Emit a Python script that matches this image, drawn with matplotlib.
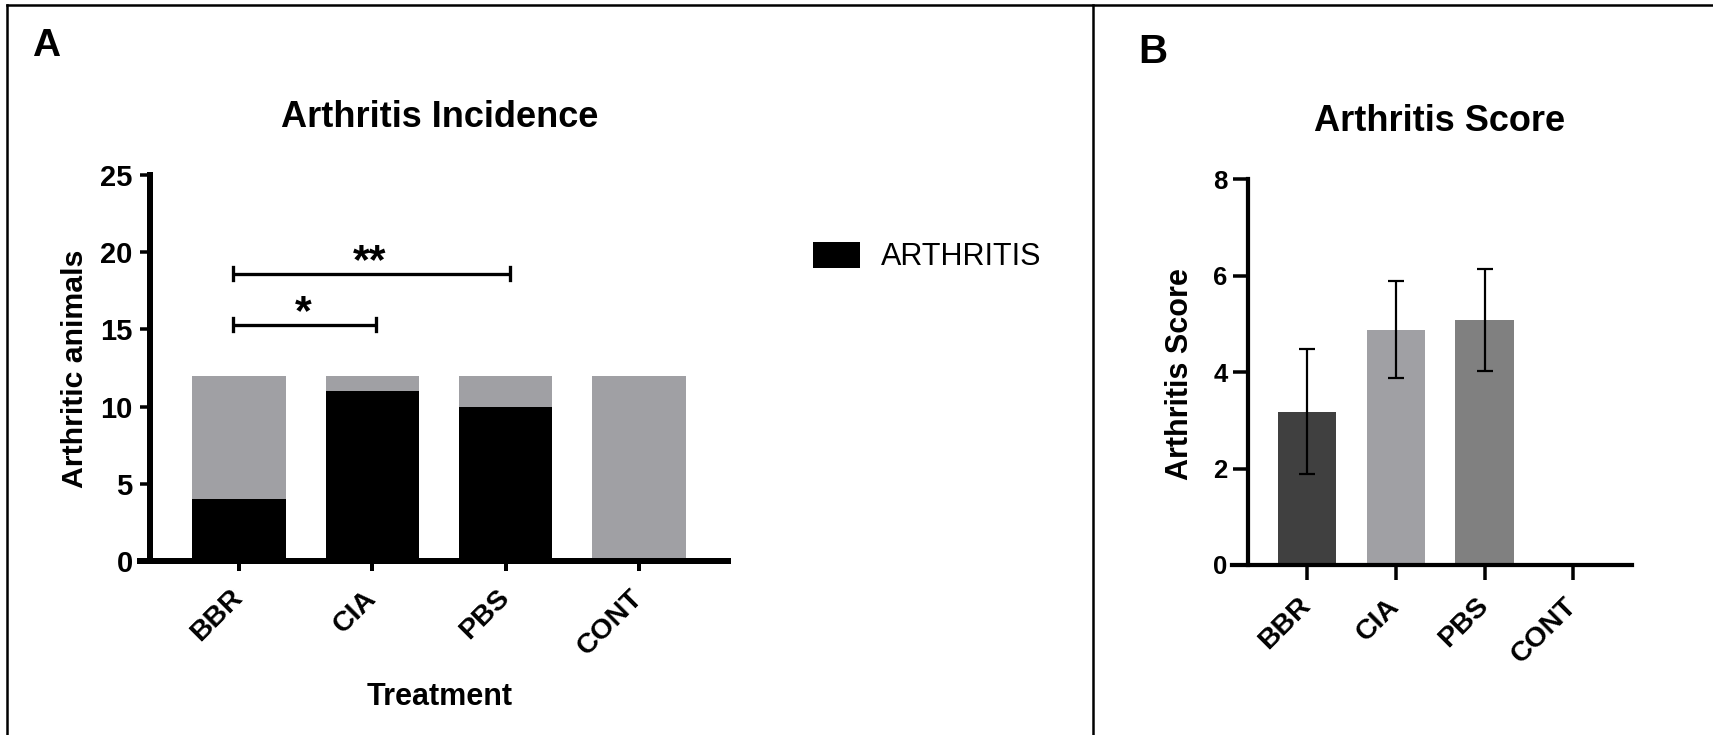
import matplotlib
matplotlib.use("Agg")
import matplotlib.pyplot as plt
from matplotlib.lines import Line2D
import numpy as np

# ---------------- data ----------------
groups = ["BBR", "CIA", "PBS", "CONT"]
arthritic = [4, 11, 10, 0]          # black part (ARTHRITIS)
non_arthritic = [8, 1, 2, 12]       # grey part on top (total 12 animals)
incidence_ticks = [0, 5, 10, 15, 20, 25]

sig_pairs = [(0, 1), (0, 2)]
sig_labels = ["*", "**"]
sig_heights = [15.3, 18.6]

score_mean = [3.18, 4.88, 5.08, 0.0]
score_err = [1.29, 1.01, 1.055, 0.0]
score_ticks = [0, 2, 4, 6, 8]
score_colors = ["#404040", "#a0a0a4", "#808080", "#808080"]

FONT = "Liberation Sans"
W, H = 1713, 735

fig = plt.figure(figsize=(W / 100, H / 100), dpi=100)
fig.patch.set_facecolor("white")

def px2pt(p):
    return p * 72 / 100

def style_ticklabels(ax, ysize, xsize):
    for lab in ax.get_yticklabels():
        lab.set_fontfamily(FONT)
        lab.set_fontweight("bold")
        lab.set_fontsize(ysize)
    for lab in ax.get_xticklabels():
        lab.set_fontfamily(FONT)
        lab.set_fontweight("bold")
        lab.set_fontsize(xsize)
        lab.set_rotation(45)
        lab.set_ha("right")
        lab.set_va("center")
        lab.set_rotation_mode("anchor")

# ---------------- panel A ----------------
axA = fig.add_axes([140 / W, 1 - 561 / H, 588 / W, 386 / H])
x = np.arange(len(groups))
b_black = axA.bar(x, arthritic, width=0.70, color="#000000", zorder=2)
axA.bar(x, non_arthritic, width=0.70, bottom=arthritic, color="#a0a0a4", zorder=2)
axA.set_xlim(-0.743, 3.668)
axA.set_ylim(0, 25)
axA.set_yticks(incidence_ticks)
axA.set_xticks(x)
axA.set_xticklabels(groups)
for s in ["top", "right"]:
    axA.spines[s].set_visible(False)
axA.spines["left"].set_position(("data", -0.67))
for s in ["left", "bottom"]:
    axA.spines[s].set_linewidth(px2pt(6))
    axA.spines[s].set_zorder(5)
axA.tick_params(axis="y", length=px2pt(10), width=px2pt(3.5), pad=px2pt(7))
axA.tick_params(axis="x", length=px2pt(10), width=px2pt(4), pad=px2pt(23))
style_ticklabels(axA, 21, 20.5)

# significance brackets
cap = 0.43
for (i0, i1), lab, hgt in zip(sig_pairs, sig_labels, sig_heights):
    xa, xb = i0 - 0.045, i1 + 0.03
    axA.plot([xa, xb], [hgt, hgt], color="black", lw=px2pt(3.3),
             solid_capstyle="butt", zorder=4, clip_on=False)
    for xx in (xa, xb):
        axA.plot([xx, xx], [hgt - cap, hgt + cap], color="black",
                 lw=px2pt(3.3), zorder=4, clip_on=False)
    axA.text((i0 + i1) / 2 - 0.02, hgt + 0.05, lab, ha="center", va="baseline",
             fontsize=31, fontweight="bold", fontfamily=FONT, zorder=4)

axA.legend([b_black], ["ARTHRITIS"], loc="center left",
           bbox_to_anchor=(813.3 / W, 1 - 256.9 / H),
           bbox_transform=fig.transFigure, frameon=False,
           prop={"family": FONT, "size": 22},
           handlelength=1.53, handleheight=0.93, handletextpad=0.69,
           borderpad=0, borderaxespad=0)

fig.text(439.5 / W, 1 - 126.7 / H, "Arthritis Incidence", ha="center",
         va="baseline", fontsize=26, fontweight="bold", fontfamily=FONT)
fig.text(75 / W, 1 - 369 / H, "Arthritic animals", ha="center", va="center",
         rotation=90, fontsize=21.8, fontweight="bold", fontfamily=FONT)
fig.text(440 / W, 1 - 705 / H, "Treatment", ha="center", va="baseline",
         fontsize=22, fontweight="bold", fontfamily=FONT)

# ---------------- panel B ----------------
axB = fig.add_axes([1231.7 / W, 1 - 565 / H, 400 / W, 385.7 / H])
axB.bar(x, score_mean, width=0.654, color=score_colors, zorder=2)
mask = np.array(score_err) > 0
axB.errorbar(x[mask], np.array(score_mean)[mask], yerr=np.array(score_err)[mask],
             fmt="none", ecolor="black", elinewidth=px2pt(2.2),
             capsize=px2pt(8), capthick=px2pt(2.2), zorder=3)
axB.set_xlim(-0.844, 3.656)
axB.set_ylim(0, 8)
axB.set_yticks(score_ticks)
axB.set_xticks(x)
axB.set_xticklabels(groups)
for s in ["top", "right"]:
    axB.spines[s].set_visible(False)
axB.spines["left"].set_position(("data", -0.664))
for s in ["left", "bottom"]:
    axB.spines[s].set_linewidth(px2pt(4.2))
    axB.spines[s].set_zorder(5)
axB.tick_params(axis="y", length=px2pt(15), width=px2pt(3.5), pad=px2pt(5))
axB.tick_params(axis="x", length=px2pt(15), width=px2pt(3.5), pad=px2pt(22))
style_ticklabels(axB, 18.5, 20.5)

fig.text(1439.7 / W, 1 - 131 / H, "Arthritis Score", ha="center",
         va="baseline", fontsize=26, fontweight="bold", fontfamily=FONT)
fig.text(1180 / W, 1 - 374 / H, "Arthritis Score", ha="center", va="center",
         rotation=90, fontsize=22, fontweight="bold", fontfamily=FONT)

# ---------------- panel letters and frame ----------------
fig.text(32 / W, 1 - 56 / H, "A", ha="left", va="baseline", fontsize=28,
         fontweight="bold", fontfamily=FONT)
fig.text(1138 / W, 1 - 63 / H, "B", ha="left", va="baseline", fontsize=29,
         fontweight="bold", fontfamily=FONT)

lw_frame = px2pt(2.5)
fig.add_artist(Line2D([7 / W, 1], [1 - 5 / H, 1 - 5 / H], transform=fig.transFigure,
                      color="black", lw=lw_frame))
fig.add_artist(Line2D([7 / W, 7 / W], [0, 1 - 5 / H], transform=fig.transFigure,
                      color="black", lw=lw_frame))
fig.add_artist(Line2D([1093.3 / W, 1093.3 / W], [0, 1 - 5 / H],
                      transform=fig.transFigure, color="black", lw=lw_frame))

fig.savefig("out.png", dpi=100, facecolor="white")
